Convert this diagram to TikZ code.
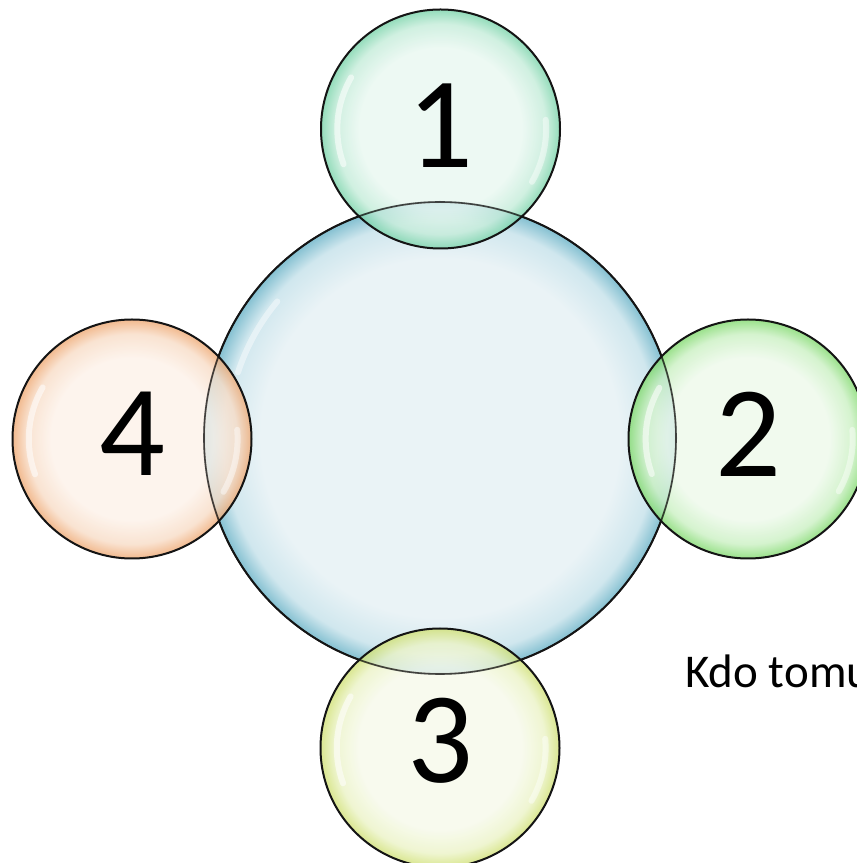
\documentclass[tikz,border=0pt]{standalone}
\usepackage{fontspec}
\setmainfont{Carlito}
\usetikzlibrary{calc}
\definecolor{bigin}{HTML}{EAF3F6}
\definecolor{bigmid}{HTML}{D0E7EE}
\definecolor{bigrim}{HTML}{84C0D1}
\definecolor{ain}{HTML}{E8F7F0}
\definecolor{amid}{HTML}{C4ECD9}
\definecolor{arim}{HTML}{78D3A9}
\definecolor{bin}{HTML}{EDF9EA}
\definecolor{bmid}{HTML}{CAF0C2}
\definecolor{brim}{HTML}{80D96D}
\definecolor{cin}{HTML}{F6F9EA}
\definecolor{cmid}{HTML}{EBF3C6}
\definecolor{crim}{HTML}{D0E074}
\definecolor{din}{HTML}{FCF1E8}
\definecolor{dmid}{HTML}{F8DCC6}
\definecolor{drim}{HTML}{EEA872}
\definecolor{edge}{HTML}{141414}
\pgfdeclareradialshading{bigsh}{\pgfpointorigin}{color(0bp)=(bigin); color(19bp)=(bigin); color(23bp)=(bigmid); color(25bp)=(bigrim); color(50bp)=(bigrim)}
\pgfdeclareradialshading{ash}{\pgfpointorigin}{color(0bp)=(ain); color(17bp)=(ain); color(22bp)=(amid); color(25bp)=(arim); color(50bp)=(arim)}
\pgfdeclareradialshading{bsh}{\pgfpointorigin}{color(0bp)=(bin); color(17bp)=(bin); color(22bp)=(bmid); color(25bp)=(brim); color(50bp)=(brim)}
\pgfdeclareradialshading{csh}{\pgfpointorigin}{color(0bp)=(cin); color(17bp)=(cin); color(22bp)=(cmid); color(25bp)=(crim); color(50bp)=(crim)}
\pgfdeclareradialshading{dsh}{\pgfpointorigin}{color(0bp)=(din); color(17bp)=(din); color(22bp)=(dmid); color(25bp)=(drim); color(50bp)=(drim)}
\tikzset{
  bubble/.style={circle, inner sep=0pt, minimum size=#1, draw=edge, line width=2pt},
  smallbubble/.style={bubble=239pt, fill opacity=0.8, draw opacity=1},
  digit/.style={font=\fontsize{130}{130}\selectfont, text=black, inner sep=0pt},
  glint/.style={white, opacity=0.55, line width=6pt, line cap=round},
  caption/.style={font=\fontsize{47}{54}\selectfont, text=black, inner sep=0pt, anchor=base west}
}
\begin{document}
\begin{tikzpicture}[x=1pt,y=1pt]
\useasboundingbox (0,0) rectangle (857,863);
\clip (0,0) rectangle (857,863);
% central bubble
\node[bubble=472pt, shading=bigsh] (center) at (440,425) {};
% small bubbles
\node[smallbubble, shading=ash] (b1) at (440.5,734) {};
\node[smallbubble, shading=bsh] (b2) at (748,424) {};
\node[smallbubble, shading=csh] (b3) at (440,115) {};
\node[smallbubble, shading=dsh] (b4) at (132,424) {};
% outline of central bubble visible through the overlaps
\draw[edge, line width=1.6pt, opacity=0.75] (center.center) circle (236pt);
% glints
\foreach \b/\r in {b1/120,b2/119,b3/120,b4/120}{
  \draw[glint] ($(\b.center)+(150:{\r*0.86})$) arc (150:200:{\r*0.86});
  \draw[glint, opacity=0.45] ($(\b.center)+(-30:{\r*0.88})$) arc (-30:5:{\r*0.88});
}
\draw[glint, opacity=0.45] ($(center.center)+(140:{236*0.9})$) arc (140:162:{236*0.9});
% digits
\node[digit] (t1) at ($(b1.center)+(0,3)$) {1};
\node[digit] (t2) at ($(b2.center)+(0,5)$) {2};
\node[digit] (t3) at ($(b3.center)+(0,7)$) {3};
\node[digit] (t4) at ($(b4.center)+(0,5)$) {4};
% caption
\node[caption] (cap) at (685,175) {Kdo tomu};
\end{tikzpicture}
\end{document}
